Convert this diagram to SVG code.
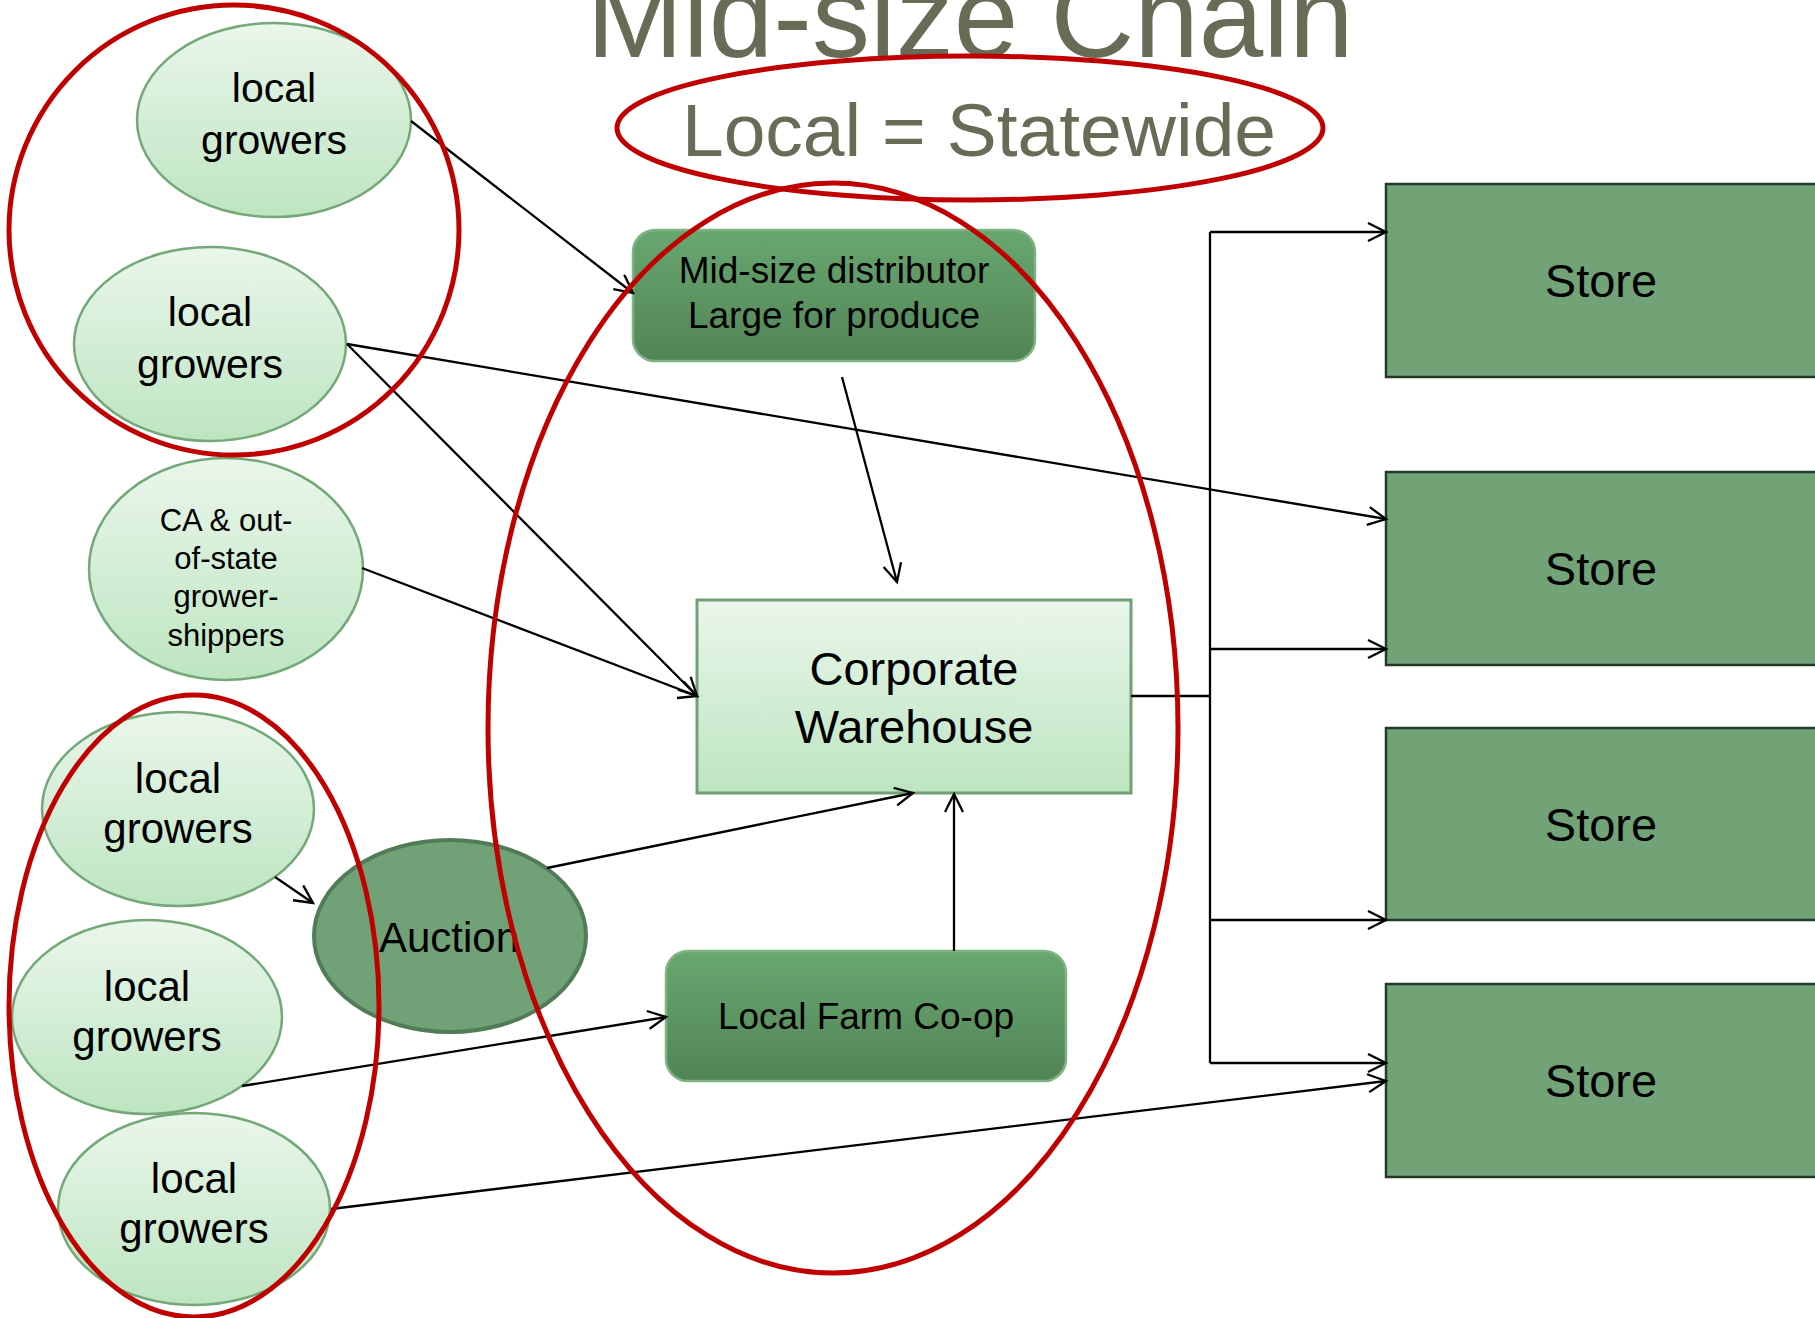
<svg xmlns="http://www.w3.org/2000/svg" width="1815" height="1318" viewBox="0 0 1815 1318">
<style>
  .t { font-family: "Liberation Sans", Arial, sans-serif; fill: #000; text-anchor: middle; }
  .grower { fill: url(#gLight); stroke: #74a878; stroke-width: 2.5; }
  .dark { fill: url(#gDark); stroke: #7fb384; stroke-width: 2.5; }
  .store { fill: #71a377; stroke: #263a28; stroke-width: 2.5; }
  .conn { fill: none; stroke: #000; stroke-width: 2.3; }
  .ring { fill: none; stroke: #c00000; stroke-width: 5; }
</style>
<defs>
  <linearGradient id="gLight" x1="0" y1="0" x2="0" y2="1">
    <stop offset="0" stop-color="#eaf6eb"/>
    <stop offset="1" stop-color="#bde5c1"/>
  </linearGradient>
  <linearGradient id="gDark" x1="0" y1="0" x2="0" y2="1">
    <stop offset="0" stop-color="#68a770"/>
    <stop offset="1" stop-color="#528456"/>
  </linearGradient>
  <marker id="arr" markerUnits="userSpaceOnUse" markerWidth="24" markerHeight="24" refX="20" refY="10" orient="auto">
    <path d="M2,1 L20,10 L2,19" fill="none" stroke="#000" stroke-width="2.3"/>
  </marker>
</defs>
<rect width="1815" height="1318" fill="#fff"/>

<g id="title">
  <text class="t" x="970" y="57" font-size="116" style="fill:#686b56">Mid-size Chain</text>
  <text class="t" x="979" y="156" font-size="75" style="fill:#686b56">Local = Statewide</text>
</g>

<g id="growers1">
  <ellipse class="grower" cx="274" cy="120" rx="137" ry="97"/>
  <text class="t" x="274" y="102" font-size="41">local</text>
  <text class="t" x="274" y="154" font-size="41">growers</text>
</g>
<g id="growers2">
  <ellipse class="grower" cx="210" cy="344" rx="136" ry="97"/>
  <text class="t" x="210" y="326" font-size="41">local</text>
  <text class="t" x="210" y="378" font-size="41">growers</text>
</g>
<g id="ca-shippers">
  <ellipse class="grower" cx="226" cy="569" rx="137" ry="111"/>
  <text class="t" x="226" y="531" font-size="31">CA &amp; out-</text>
  <text class="t" x="226" y="569" font-size="31">of-state</text>
  <text class="t" x="226" y="607" font-size="31">grower-</text>
  <text class="t" x="226" y="646" font-size="31">shippers</text>
</g>
<g id="growers3">
  <ellipse class="grower" cx="178" cy="809" rx="136" ry="97"/>
  <text class="t" x="178" y="793" font-size="42">local</text>
  <text class="t" x="178" y="843" font-size="42">growers</text>
</g>
<g id="growers4">
  <ellipse class="grower" cx="147" cy="1017" rx="135" ry="97"/>
  <text class="t" x="147" y="1001" font-size="42">local</text>
  <text class="t" x="147" y="1051" font-size="42">growers</text>
</g>
<g id="growers5">
  <ellipse class="grower" cx="194" cy="1209" rx="136" ry="96"/>
  <text class="t" x="194" y="1193" font-size="42">local</text>
  <text class="t" x="194" y="1243" font-size="42">growers</text>
</g>
<g id="auction">
  <ellipse cx="450" cy="936" rx="136" ry="96" fill="#71a277" stroke="#527c57" stroke-width="4"/>
  <text class="t" x="449" y="952" font-size="42">Auction</text>
</g>
<g id="distributor">
  <rect class="dark" x="633" y="230" width="402" height="131" rx="22"/>
  <text class="t" x="834" y="283" font-size="37">Mid-size distributor</text>
  <text class="t" x="834" y="328" font-size="37">Large for produce</text>
</g>
<g id="warehouse">
  <rect x="697" y="600" width="434" height="193" fill="url(#gLight)" stroke="#70a074" stroke-width="3"/>
  <text class="t" x="914" y="685" font-size="47">Corporate</text>
  <text class="t" x="914" y="743" font-size="47">Warehouse</text>
</g>
<g id="coop">
  <rect class="dark" x="666" y="951" width="400" height="130" rx="22"/>
  <text class="t" x="866" y="1029" font-size="37">Local Farm Co-op</text>
</g>
<g id="store1">
  <rect class="store" x="1386" y="184" width="440" height="193"/>
  <text class="t" x="1601" y="297" font-size="47">Store</text>
</g>
<g id="store2">
  <rect class="store" x="1386" y="472" width="440" height="193"/>
  <text class="t" x="1601" y="585" font-size="47">Store</text>
</g>
<g id="store3">
  <rect class="store" x="1386" y="728" width="440" height="192"/>
  <text class="t" x="1601" y="841" font-size="47">Store</text>
</g>
<g id="store4">
  <rect class="store" x="1386" y="984" width="440" height="193"/>
  <text class="t" x="1601" y="1097" font-size="47">Store</text>
</g>

<g id="connectors">
  <line class="conn" x1="411" y1="121" x2="633" y2="293" marker-end="url(#arr)"/>
  <line class="conn" x1="347" y1="344" x2="1386" y2="519" marker-end="url(#arr)"/>
  <line class="conn" x1="347" y1="344" x2="697" y2="696" marker-end="url(#arr)"/>
  <line class="conn" x1="362" y1="568" x2="697" y2="696" marker-end="url(#arr)"/>
  <line class="conn" x1="842" y1="377" x2="897" y2="582" marker-end="url(#arr)"/>
  <line class="conn" x1="275" y1="877" x2="313" y2="903" marker-end="url(#arr)"/>
  <line class="conn" x1="547" y1="868" x2="913" y2="793" marker-end="url(#arr)"/>
  <line class="conn" x1="954" y1="951" x2="954" y2="794" marker-end="url(#arr)"/>
  <line class="conn" x1="242" y1="1086" x2="666" y2="1017" marker-end="url(#arr)"/>
  <line class="conn" x1="331" y1="1209" x2="1386" y2="1081" marker-end="url(#arr)"/>
  <line class="conn" x1="1131" y1="696" x2="1210" y2="696"/>
  <line class="conn" x1="1210" y1="232" x2="1210" y2="1063"/>
  <line class="conn" x1="1210" y1="232" x2="1386" y2="232" marker-end="url(#arr)"/>
  <line class="conn" x1="1210" y1="649" x2="1386" y2="649" marker-end="url(#arr)"/>
  <line class="conn" x1="1210" y1="920" x2="1386" y2="920" marker-end="url(#arr)"/>
  <line class="conn" x1="1210" y1="1063" x2="1386" y2="1063" marker-end="url(#arr)"/>
</g>

<g id="highlights">
  <ellipse class="ring" cx="234" cy="230" rx="225" ry="225"/>
  <ellipse class="ring" cx="970" cy="128" rx="353" ry="72"/>
  <ellipse class="ring" cx="833" cy="728" rx="345" ry="545"/>
  <ellipse class="ring" cx="194" cy="1006" rx="185" ry="311"/>
</g>
</svg>
